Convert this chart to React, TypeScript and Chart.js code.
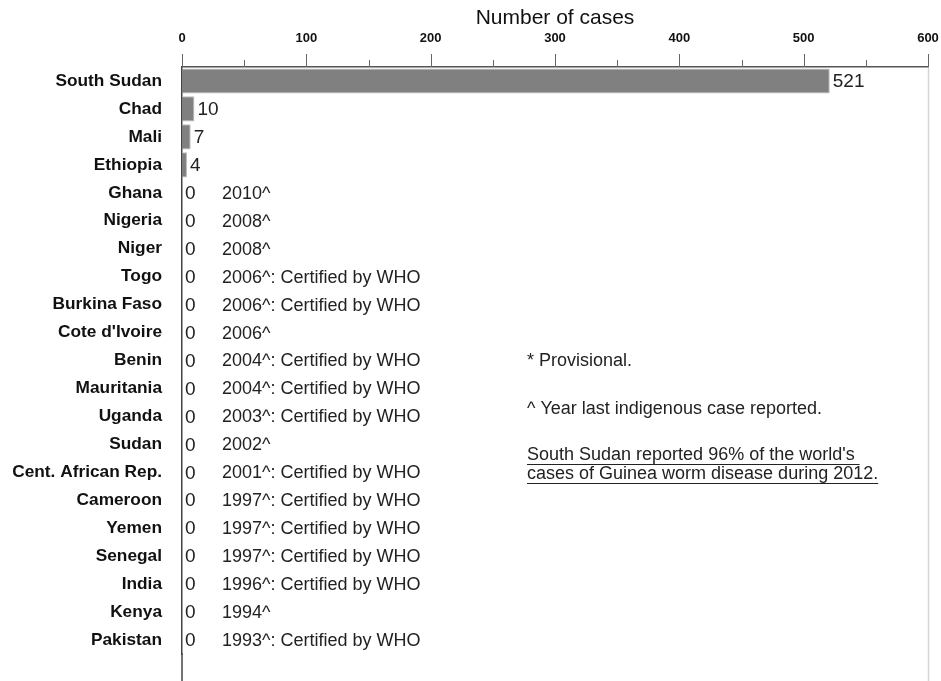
import React, { useEffect, useRef } from "react";
import { Chart, registerables } from "chart.js";

Chart.register(...registerables);

const countries = [
  "South Sudan", "Chad", "Mali", "Ethiopia", "Ghana", "Nigeria", "Niger", "Togo",
  "Burkina Faso", "Cote d'Ivoire", "Benin", "Mauritania", "Uganda", "Sudan",
  "Cent. African Rep.", "Cameroon", "Yemen", "Senegal", "India", "Kenya", "Pakistan",
];
const cases = [521, 10, 7, 4, 0, 0, 0, 0, 0, 0, 0, 0, 0, 0, 0, 0, 0, 0, 0, 0, 0];
const notes = [
  "", "", "", "", "2010^", "2008^", "2008^", "2006^: Certified by WHO",
  "2006^: Certified by WHO", "2006^", "2004^: Certified by WHO", "2004^: Certified by WHO",
  "2003^: Certified by WHO", "2002^", "2001^: Certified by WHO", "1997^: Certified by WHO",
  "1997^: Certified by WHO", "1997^: Certified by WHO", "1996^: Certified by WHO", "1994^",
  "1993^: Certified by WHO",
];
const xTickValues = [0, 50, 100, 150, 200, 250, 300, 350, 400, 450, 500, 550, 600];
const footnotes = ["* Provisional.", "^ Year last indigenous case reported."];
const highlight = [
  "South Sudan reported 96% of the world's ",
  "cases of Guinea worm disease during 2012.",
];

const FONT = "'Liberation Sans', Arial, sans-serif";

export default function App() {
  const ref = useRef<HTMLCanvasElement | null>(null);

  useEffect(() => {
    if (!ref.current) return;
    const overlay = {
      id: "overlay",
      afterDraw(chart: any) {
        const ctx = chart.ctx as CanvasRenderingContext2D;
        const xs = chart.scales.x;
        const area = chart.chartArea;
        const H = chart.height;
        ctx.save();
        // tick marks
        ctx.strokeStyle = "#666";
        ctx.lineWidth = 1;
        xTickValues.forEach((v) => {
          const px = Math.round(xs.getPixelForValue(v)) + 0.5;
          const len = v % 100 === 0 ? 13 : 7;
          ctx.beginPath();
          ctx.moveTo(px, area.top);
          ctx.lineTo(px, area.top - len);
          ctx.stroke();
        });
        // right light line
        const rx = Math.round(xs.getPixelForValue(600)) + 0.5;
        ctx.strokeStyle = "#d6d6d6";
        ctx.lineWidth = 1.5;
        ctx.beginPath();
        ctx.moveTo(rx, area.top + 1);
        ctx.lineTo(rx, H);
        ctx.stroke();
        // extend left axis line
        const lx = xs.getPixelForValue(0);
        ctx.strokeStyle = "#444";
        ctx.lineWidth = 1.5;
        ctx.beginPath();
        ctx.moveTo(lx, area.bottom - 1);
        ctx.lineTo(lx, H);
        ctx.stroke();
        // value labels and notes
        const meta = chart.getDatasetMeta(0);
        ctx.fillStyle = "#222";
        ctx.textBaseline = "middle";
        ctx.textAlign = "left";
        meta.data.forEach((el: any, i: number) => {
          ctx.font = `19px ${FONT}`;
          ctx.fillText(String(cases[i]), el.x + 3, el.y + 1);
          if (notes[i]) {
            ctx.font = `18px ${FONT}`;
            ctx.fillText(notes[i], lx + 40, el.y + 1);
          }
        });
        // footnotes
        ctx.font = `18px ${FONT}`;
        ctx.fillStyle = "#222";
        const fx = 527;
        ctx.fillText(footnotes[0], fx, 361);
        ctx.fillText(footnotes[1], fx, 409);
        highlight.forEach((t, k) => {
          const y = 455 + k * 19;
          ctx.fillText(t, fx, y);
          const w = ctx.measureText(t).width;
          ctx.strokeStyle = "#222";
          ctx.lineWidth = 1;
          ctx.beginPath();
          ctx.moveTo(fx, Math.round(y + 9) + 0.5);
          ctx.lineTo(fx + w, Math.round(y + 9) + 0.5);
          ctx.stroke();
        });
        ctx.restore();
      },
    };

    const chart = new Chart(ref.current, {
      type: "bar",
      data: {
        labels: countries,
        datasets: [
          {
            data: cases,
            backgroundColor: "#808080",
            borderColor: "#bdbdbd",
            borderWidth: 1,
            barPercentage: 0.9,
            categoryPercentage: 1,
          },
        ],
      },
      options: {
        indexAxis: "y",
        animation: false,
        responsive: true,
        maintainAspectRatio: false,
        layout: { padding: { top: 0, right: 13, bottom: 27, left: 0 } },
        plugins: { legend: { display: false }, tooltip: { enabled: false } },
        scales: {
          x: {
            position: "top",
            min: 0,
            max: 600,
            afterFit: (s: any) => {
              s.height = 67;
              s.paddingLeft = 0;
              s.paddingRight = 0;
            },
            ticks: {
              stepSize: 100,
              padding: 21,
              color: "#111",
              font: { family: FONT, size: 13, weight: "bold" },
            },
            grid: { display: false, drawTicks: false, tickLength: 0 },
            border: { display: true, color: "#555", width: 1.5 },
            title: {
              display: true,
              text: "Number of cases",
              color: "#111",
              font: { family: FONT, size: 21 },
              padding: { top: 6, bottom: 0 },
            },
          },
          y: {
            afterFit: (s: any) => {
              s.width = 182;
              s.paddingTop = 0;
              s.paddingBottom = 0;
            },
            ticks: {
              padding: 20,
              color: "#111",
              font: { family: FONT, size: 17.3, weight: "bold" },
            },
            grid: { display: false, drawTicks: false, tickLength: 0 },
            border: { display: true, color: "#444", width: 1.5 },
          },
        },
      },
      plugins: [overlay],
    });
    return () => chart.destroy();
  }, []);

  return (
    <div style={{ position: "fixed", left: 0, top: 0, width: 941, height: 681, background: "#fff" }}>
      <canvas ref={ref} />
    </div>
  );
}
